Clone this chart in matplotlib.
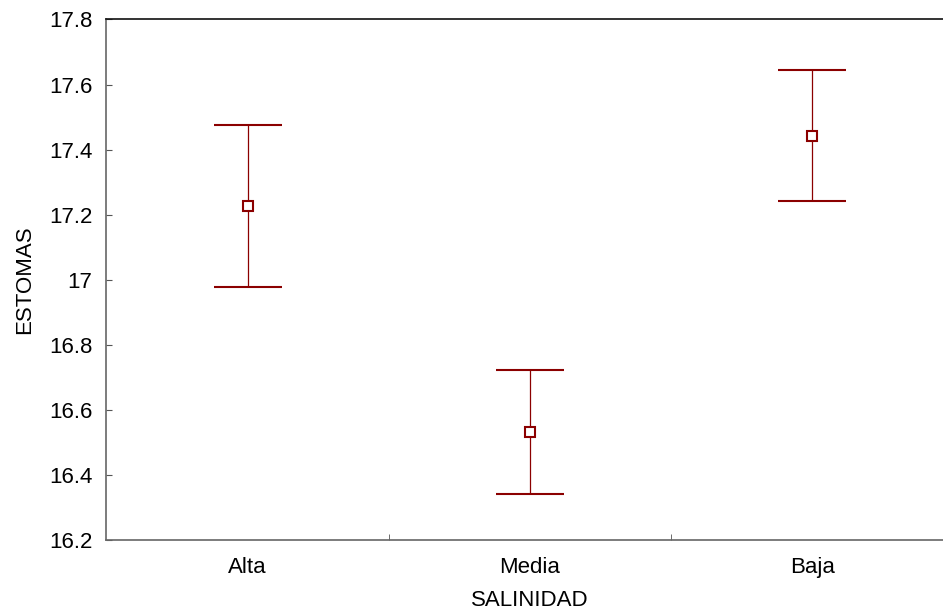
import matplotlib
matplotlib.use("Agg")
import matplotlib.pyplot as plt

plt.rcParams['font.family'] = ['Liberation Sans', 'DejaVu Sans']

categories = ["Alta", "Media", "Baja"]
means = [17.226, 16.531, 17.442]
upper = [17.475, 16.723, 17.645]
lower = [16.978, 16.340, 17.242]

color = "#8b0000"

fig = plt.figure(figsize=(9.43, 6.15), dpi=100)
ax = fig.add_axes([0.1129, 0.122, 0.898, 0.8463])

x = list(range(1, len(categories) + 1))
yerr = [[m - lo for m, lo in zip(means, lower)],
        [up - m for m, up in zip(means, upper)]]
ax.errorbar(x, means, yerr=yerr, fmt="s", color=color, ecolor=color,
            elinewidth=0.9, capsize=24.5, capthick=0.8,
            markersize=7, markerfacecolor="white", markeredgecolor=color,
            markeredgewidth=1.5, zorder=3)

ax.set_xlim(0.5, len(categories) + 0.5)
ax.set_ylim(16.2, 17.8)
ax.set_yticks([16.2, 16.4, 16.6, 16.8, 17.0, 17.2, 17.4, 17.6, 17.8])
ax.set_yticklabels(["16.2", "16.4", "16.6", "16.8", "17", "17.2", "17.4", "17.6", "17.8"])

ax.set_xticks(x)
ax.set_xticklabels(categories)
ax.set_xticks([1.5, 2.5], minor=True)
ax.tick_params(axis="x", which="major", length=0, pad=12, labelsize=16)
ax.tick_params(axis="x", which="minor", direction="in", length=4, color="#555555")
ax.tick_params(axis="y", direction="in", length=4, pad=10, labelsize=16, color="#555555")

ax.spines["right"].set_visible(False)
ax.spines["top"].set_color("#111111")
ax.spines["left"].set_color("#666666")
ax.spines["bottom"].set_color("#666666")
for s in ax.spines.values():
    s.set_linewidth(1.2)

ax.set_xlabel("SALINIDAD", fontsize=16, labelpad=9)
ax.set_ylabel("ESTOMAS", fontsize=16, labelpad=10)

fig.savefig("out.png", dpi=100)
